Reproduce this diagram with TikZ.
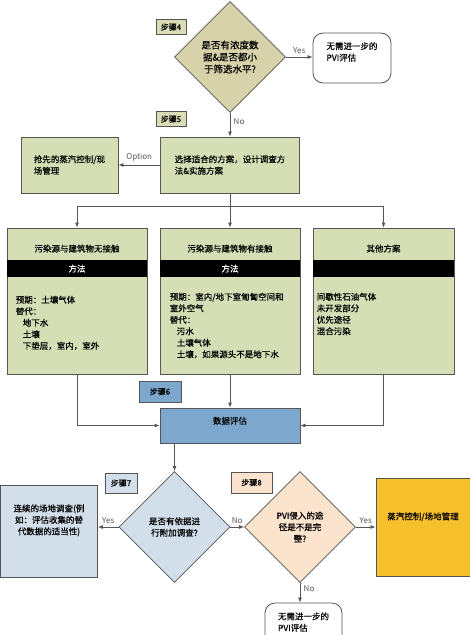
\documentclass[tikz,border=0pt]{standalone}
\usepackage{fontspec}
\setmainfont{Noto Sans CJK SC}[FakeBold=0.5]
\newfontfamily\plainfont{Noto Sans CJK SC}
\usetikzlibrary{positioning, arrows.meta, calc, shapes.geometric}

\definecolor{linegray}{RGB}{85,85,85}
\definecolor{boxgreen}{RGB}{213,222,180}
\definecolor{stepgreen}{RGB}{218,220,182}
\definecolor{khaki}{RGB}{216,210,170}
\definecolor{datablue}{RGB}{125,167,204}
\definecolor{paleblue}{RGB}{210,222,234}
\definecolor{peach}{RGB}{251,227,205}
\definecolor{gold}{RGB}{246,192,45}

\begin{document}
\begin{tikzpicture}[
    x=1pt, y=-1pt,
    font=\fontsize{8.5}{11.5}\selectfont,
    box/.style={
        rectangle,
        draw=linegray,
        line width=0.8pt,
        inner sep=2pt
    },
    greenbox/.style={
        box,
        fill=boxgreen,
        align=left
    },
    steplabel/.style={
        box,
        minimum width=30pt,
        minimum height=15pt,
        font=\fontsize{8}{9}\selectfont
    },
    decision/.style={
        diamond,
        draw=linegray,
        line width=0.8pt,
        inner sep=0pt,
        align=center,
        minimum width=111pt,
        minimum height=111pt
    },
    endbox/.style={
        rectangle,
        rounded corners=10pt,
        draw=linegray,
        line width=0.8pt,
        fill=white,
        align=left,
        minimum width=78pt,
        minimum height=50pt
    },
    methodbar/.style={
        rectangle,
        fill=black,
        text=white,
        minimum width=140pt,
        minimum height=17pt,
        inner sep=0pt
    },
    arrow/.style={
        -{Latex[length=5pt,width=4pt]},
        draw=linegray,
        line width=0.8pt
    },
    answer/.style={
        font=\plainfont\fontsize{8}{9}\selectfont,
        text=linegray
    }
]

\useasboundingbox (0,0) rectangle (470,635);

% ===== Step 4 =====
\node[steplabel, fill=stepgreen] (step4) at (171,27) {步骤4};
\node[decision, fill=khaki, font=\fontsize{9.5}{12}\selectfont] (dec1) at (230,57) {是否有浓度数\\据\&是否都小\\于筛选水平?};
\node[endbox, text depth=13pt] (end1) at (352,58) {无需进一步的\\PVI评估};
\draw[arrow] (dec1.east) -- node[answer, above] (yes1) {Yes} (dec1.east -| end1.west);

% ===== Step 5 =====
\node[steplabel, fill=stepgreen] (step5) at (171,119) {步骤5};
\node[greenbox, minimum width=139pt, minimum height=56pt] (choose) at (230,165) {选择适合的方案，设计调查方\\法\&实施方案};
\node[greenbox, minimum width=97pt, minimum height=56pt] (preempt) at (69.5,165) {抢先的蒸汽控制/现\\场管理};
\draw[arrow] (dec1) -- node[answer, right, pos=0.35] (no1) {No} (choose);
\draw[arrow] (choose) -- node[answer, above] (opt) {Option} (preempt);

% ===== 三种情况 =====
\node[greenbox, minimum width=140pt, minimum height=146pt] (nocontact) at (77,301) {};
\node[greenbox, minimum width=140pt, minimum height=146pt] (contact) at (230,301) {};
\node[greenbox, minimum width=141pt, minimum height=146pt] (other) at (383.5,301) {};

\node (nocontact-title) at ([yshift=-21pt]nocontact.north) {污染源与建筑物无接触};
\node (contact-title) at ([yshift=-21pt]contact.north) {污染源与建筑物有接触};
\node (other-title) at ([yshift=-21pt]other.north) {其他方案};

\node[methodbar] (nocontact-bar) at ([yshift=-41pt]nocontact.north) {方法};
\node[methodbar] (contact-bar) at ([yshift=-41pt]contact.north) {方法};
\node[methodbar, minimum width=141pt] (other-bar) at ([yshift=-41pt]other.north) {};

\node[anchor=north west, align=left, inner sep=0pt] (nocontact-text) at ([xshift=9pt,yshift=-68pt]nocontact.north west)
    {预期：土壤气体\\替代：\\\hspace{7pt}地下水\\\hspace{7pt}土壤\\\hspace{7pt}下垫层，室内，室外};
\node[anchor=north west, align=left, inner sep=0pt] (contact-text) at ([xshift=10pt,yshift=-65pt]contact.north west)
    {预期：室内/地下室匍匐空间和\\室外空气\\替代：\\\hspace{7pt}污水\\\hspace{7pt}土壤气体\\\hspace{7pt}土壤，如果源头不是地下水};
\node[anchor=north west, align=left, inner sep=0pt] (other-text) at ([xshift=4pt,yshift=-65pt]other.north west)
    {间歇性石油气体\\未开发部分\\优先途径\\混合污染};

\coordinate (split) at (230,206);
\draw[arrow] (choose) -- (contact);
\draw[arrow] (split) -| (nocontact);
\draw[arrow] (split) -| (other);

% ===== Step 6 =====
\node[steplabel, fill=datablue, minimum width=42pt, minimum height=21pt] (step6) at (160,391.5) {步骤6};
\node[box, fill=datablue, minimum width=140pt, minimum height=35pt, text depth=10pt] (data) at (230,425.5) {数据评估};
\draw[arrow] (contact) -- (data);
\draw[arrow] (nocontact) |- (data);
\draw[arrow] (other) |- (data);

% ===== Step 7 =====
\node[steplabel, fill=paleblue, minimum width=32pt, minimum height=20pt] (step7) at (121,483) {步骤7};
\node[decision, fill=paleblue] (dec2) at (174.5,527) {是否有依据进\\行附加调查?};
\node[box, fill=paleblue, align=center, minimum width=97pt, minimum height=92pt, text depth=23pt] (survey) at (49,531) {连续的场地调查(例\\如：评估收集的替\\代数据的适当性)};
\draw[arrow] (data.south -| dec2) -- (dec2);
\draw[arrow] (dec2.west) -- node[answer, above] (yes2) {Yes} (dec2.west -| survey.east);

% ===== Step 8 =====
\node[steplabel, fill=peach, minimum width=41pt, minimum height=21pt] (step8) at (251.5,482.5) {步骤8};
\node[decision, fill=peach] (dec3) at (300,527) {PVI侵入的途\\径是不是完\\整?};
\node[box, fill=gold, minimum width=94pt, minimum height=98pt, text depth=22pt] (gold) at (423,527) {蒸汽控制/场地管理};
\node[endbox, minimum width=77pt, text depth=12.5pt] (end2) at (303.5,628) {无需进一步的\\PVI评估};
\draw[arrow] (dec2) -- node[answer, above] (no2) {No} (dec3);
\draw[arrow] (dec3) -- node[answer, above] (yes3) {Yes} (gold);
\draw[arrow] (dec3.south) -- node[answer, right, pos=0.3] (no3) {No} (dec3.south |- end2.north);

\end{tikzpicture}
\end{document}
